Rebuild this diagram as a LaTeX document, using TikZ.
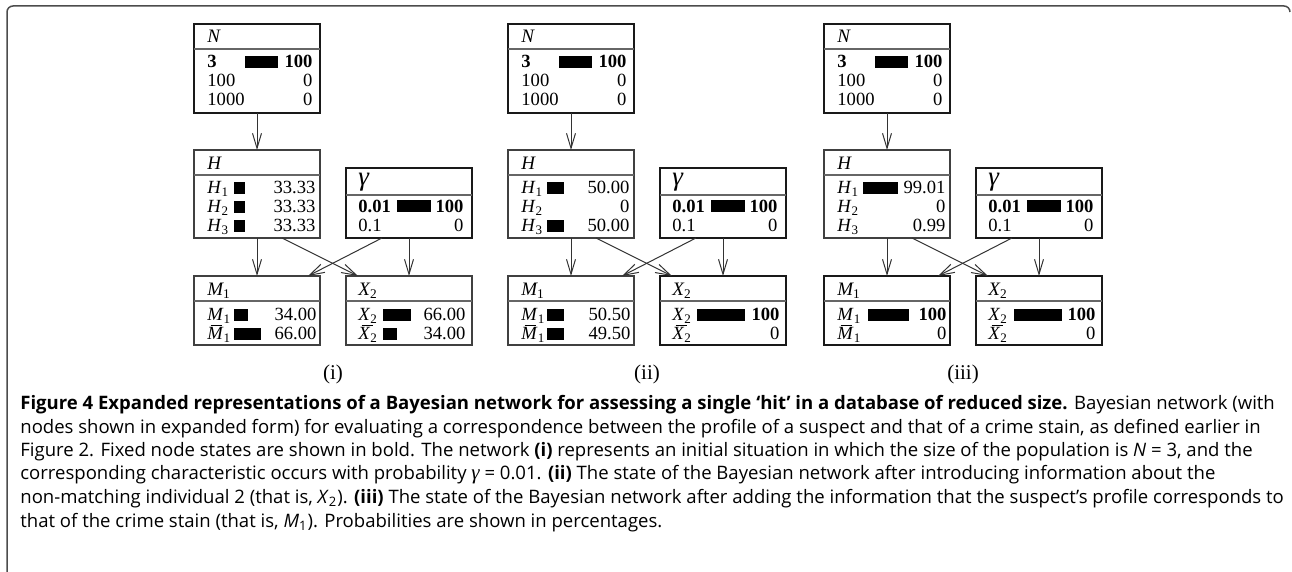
\documentclass[tikz,border=0pt]{standalone}
\usepackage{fontspec}
\setmainfont{Liberation Serif}
\newfontfamily\capfont{Open Sans}
\usetikzlibrary{arrows.meta}
\tikzset{
 bnthin/.style={draw=black!75, line width=0.55pt, inner sep=0pt, outer sep=0pt, minimum width=63pt},
 bnthick/.style={draw=black!90, line width=1pt, inner sep=0pt, outer sep=0pt, minimum width=63pt},
 sepline/.style={draw=black!60, line width=0.6pt},
 hdr/.style={anchor=base west, inner sep=0pt, font=\fontsize{9.5}{9.5}\selectfont\itshape},
 ghdr/.style={anchor=base west, inner sep=0pt, font=\fontsize{13.5}{13.5}\selectfont\itshape},
 rowtxt/.style={anchor=base west, inner sep=0pt, font=\fontsize{9.3}{9.3}\selectfont},
 arr/.style={draw=black!80, line width=0.5pt, -{Straight Barb[length=7.5pt,width=4.5pt]}},
 pnl/.style={anchor=base, inner sep=0pt, font=\fontsize{10.5}{10.5}\selectfont},
 capl/.style={anchor=base west, inner sep=0pt, font=\capfont\fontsize{9.27}{9.27}\selectfont},
 capframe/.style={draw=black!70, line width=0.75pt, rounded corners=3pt},
}
% box: name, style, centre x, top, separator, bottom (px)
\newcommand\bnbox[6]{%
  \node[#2, minimum height={(#6-#4)*0.5pt}] (#1) at (#3,{(#4+#6)/2}) {};
  \draw[sepline] (#3-63,#5) -- (#3+63,#5);}
% row: name, position, row width, label width, bar length, label, value
\newcommand\bnrow[7]{%
  \node[rowtxt] (#1) at #2 {\makebox[#3][l]{\makebox[#4][l]{#6}\rule{#5}{6pt}\hfill #7}};}
\newcommand\lbl[2]{\textit{#1}\textsubscript{\upshape #2}}
\newcommand\lblbar[2]{\makebox[0pt][l]{\hspace{1.6pt}\raisebox{6.9pt}{\rule{5.6pt}{0.45pt}}}\textit{#1}\textsubscript{\upshape #2}}
\begin{document}
\begin{tikzpicture}[x=0.5pt,y=-0.5pt]
\useasboundingbox (0,0) rectangle (1292,572);
\draw[capframe] (7,580) -- (7,6) -- (1290,6) -- (1290,12);

% ---------------- panel (i)
\bnbox{Na}{bnthick}{257}{24}{49}{113}
\node[hdr] (Nah) at (207,43) {N};
\bnrow{Na1}{(207,68)}{52.5pt}{19pt}{16.5pt}{\textbf{3}}{\textbf{100}}
\bnrow{Na2}{(207,87)}{52.5pt}{19pt}{0pt}{100}{0}
\bnrow{Na3}{(207,106)}{52.5pt}{19pt}{0pt}{1000}{0}

\bnbox{Ha}{bnthin}{257}{150}{175}{238}
\node[hdr] (Hah) at (207,170) {H};
\bnrow{Ha1}{(207,194)}{54pt}{13.5pt}{5.5pt}{\lbl{H}{1}}{33.33}
\bnrow{Ha2}{(207,213)}{54pt}{13.5pt}{5.5pt}{\lbl{H}{2}}{33.33}
\bnrow{Ha3}{(207,232)}{54pt}{13.5pt}{5.5pt}{\lbl{H}{3}}{33.33}

\bnbox{Ga}{bnthick}{409}{168}{195}{238}
\node[ghdr] (Gah) at (358,186) {γ};
\bnrow{Ga1}{(358,212.5)}{52.5pt}{19.5pt}{17pt}{\textbf{0.01}}{\textbf{100}}
\bnrow{Ga2}{(358,231.5)}{52.5pt}{19.5pt}{0pt}{0.1}{0}

\bnbox{Ma}{bnthin}{257}{276}{301}{345}
\node[hdr] (Mah) at (207,296) {\lbl{M}{1}};
\bnrow{Ma1}{(207,321)}{54.5pt}{13.5pt}{7pt}{\lbl{M}{1}}{34.00}
\bnrow{Ma2}{(207,340)}{54.5pt}{13.5pt}{13.5pt}{\lblbar{M}{1}}{66.00}

\bnbox{Xa}{bnthin}{409}{276}{301}{345}
\node[hdr] (Xah) at (358,296) {\lbl{X}{2}};
\bnrow{Xa1}{(358,321)}{53.5pt}{12.5pt}{14pt}{\lbl{X}{2}}{66.00}
\bnrow{Xa2}{(358,340)}{53.5pt}{12.5pt}{7pt}{\lblbar{X}{2}}{34.00}

\draw[arr] (Na.south) -- (Ha.north);
\draw[arr] (Ha.south) -- (Ma.north);
\draw[arr] ([xshift=12.5pt]Ha.south) -- ([xshift=-25.5pt]Xa.north);
\draw[arr] ([xshift=-13.5pt]Ga.south) -- ([xshift=25.5pt]Ma.north);
\draw[arr] (Ga.south) -- (Xa.north);
\node[pnl] (La) at (333,380) {(i)};

% ---------------- panel (ii)
\begin{scope}[xshift=157pt]
\bnbox{Nb}{bnthick}{257}{24}{49}{113}
\node[hdr] (Nbh) at (207,43) {N};
\bnrow{Nb1}{(207,68)}{52.5pt}{19pt}{16.5pt}{\textbf{3}}{\textbf{100}}
\bnrow{Nb2}{(207,87)}{52.5pt}{19pt}{0pt}{100}{0}
\bnrow{Nb3}{(207,106)}{52.5pt}{19pt}{0pt}{1000}{0}

\bnbox{Hb}{bnthin}{257}{150}{175}{238}
\node[hdr] (Hbh) at (207,170) {H};
\bnrow{Hb1}{(207,194)}{54pt}{13pt}{8.5pt}{\lbl{H}{1}}{50.00}
\bnrow{Hb2}{(207,213)}{54pt}{13pt}{0pt}{\lbl{H}{2}}{0}
\bnrow{Hb3}{(207,232)}{54pt}{13pt}{8.5pt}{\lbl{H}{3}}{50.00}

\bnbox{Gb}{bnthick}{409}{168}{195}{238}
\node[ghdr] (Gbh) at (358,186) {γ};
\bnrow{Gb1}{(358,212.5)}{52.5pt}{19.5pt}{17pt}{\textbf{0.01}}{\textbf{100}}
\bnrow{Gb2}{(358,231.5)}{52.5pt}{19.5pt}{0pt}{0.1}{0}

\bnbox{Mb}{bnthin}{257}{276}{301}{345}
\node[hdr] (Mbh) at (207,296) {\lbl{M}{1}};
\bnrow{Mb1}{(207,321)}{54.5pt}{13pt}{8.5pt}{\lbl{M}{1}}{50.50}
\bnrow{Mb2}{(207,340)}{54.5pt}{13pt}{8.3pt}{\lblbar{M}{1}}{49.50}

\bnbox{Xb}{bnthick}{409}{276}{301}{345}
\node[hdr] (Xbh) at (358,296) {\lbl{X}{2}};
\bnrow{Xb1}{(358,321)}{53.5pt}{12.5pt}{24pt}{\lbl{X}{2}}{\textbf{100}}
\bnrow{Xb2}{(358,340)}{53.5pt}{12.5pt}{0pt}{\lblbar{X}{2}}{0}

\draw[arr] (Nb.south) -- (Hb.north);
\draw[arr] (Hb.south) -- (Mb.north);
\draw[arr] ([xshift=12.5pt]Hb.south) -- ([xshift=-25.5pt]Xb.north);
\draw[arr] ([xshift=-13.5pt]Gb.south) -- ([xshift=25.5pt]Mb.north);
\draw[arr] (Gb.south) -- (Xb.north);
\node[pnl] (Lb) at (333,380) {(ii)};
\end{scope}

% ---------------- panel (iii)
\begin{scope}[xshift=315pt]
\bnbox{Nc}{bnthick}{257}{24}{49}{113}
\node[hdr] (Nch) at (207,43) {N};
\bnrow{Nc1}{(207,68)}{52.5pt}{19pt}{16.5pt}{\textbf{3}}{\textbf{100}}
\bnrow{Nc2}{(207,87)}{52.5pt}{19pt}{0pt}{100}{0}
\bnrow{Nc3}{(207,106)}{52.5pt}{19pt}{0pt}{1000}{0}

\bnbox{Hc}{bnthin}{257}{150}{175}{238}
\node[hdr] (Hch) at (207,170) {H};
\bnrow{Hc1}{(207,194)}{54pt}{13pt}{17.5pt}{\lbl{H}{1}}{99.01}
\bnrow{Hc2}{(207,213)}{54pt}{13pt}{0pt}{\lbl{H}{2}}{0}
\bnrow{Hc3}{(207,232)}{54pt}{13pt}{0pt}{\lbl{H}{3}}{0.99}

\bnbox{Gc}{bnthick}{409}{168}{195}{238}
\node[ghdr] (Gch) at (358,186) {γ};
\bnrow{Gc1}{(358,212.5)}{52.5pt}{19.5pt}{17pt}{\textbf{0.01}}{\textbf{100}}
\bnrow{Gc2}{(358,231.5)}{52.5pt}{19.5pt}{0pt}{0.1}{0}

\bnbox{Mc}{bnthick}{257}{276}{301}{345}
\node[hdr] (Mch) at (207,296) {\lbl{M}{1}};
\bnrow{Mc1}{(207,321)}{54.5pt}{15.5pt}{20.5pt}{\lbl{M}{1}}{\textbf{100}}
\bnrow{Mc2}{(207,340)}{54.5pt}{15.5pt}{0pt}{\lblbar{M}{1}}{0}

\bnbox{Xc}{bnthick}{409}{276}{301}{345}
\node[hdr] (Xch) at (358,296) {\lbl{X}{2}};
\bnrow{Xc1}{(358,321)}{53.5pt}{13pt}{24pt}{\lbl{X}{2}}{\textbf{100}}
\bnrow{Xc2}{(358,340)}{53.5pt}{13pt}{0pt}{\lblbar{X}{2}}{0}

\draw[arr] (Nc.south) -- (Hc.north);
\draw[arr] (Hc.south) -- (Mc.north);
\draw[arr] ([xshift=12.5pt]Hc.south) -- ([xshift=-25.5pt]Xc.north);
\draw[arr] ([xshift=-13.5pt]Gc.south) -- ([xshift=25.5pt]Mc.north);
\draw[arr] (Gc.south) -- (Xc.north);
\node[pnl] (Lc) at (333,380) {(iii)};
\end{scope}

% ---------------- caption
\node[capl] (cap1) at (20,410) {\textbf{Figure 4 Expanded representations of a Bayesian network for assessing a single ‘hit’ in a database of reduced size.} Bayesian network (with};
\node[capl] (cap2) at (20,433.5) {nodes shown in expanded form) for evaluating a correspondence between the profile of a suspect and that of a crime stain, as defined earlier in};
\node[capl] (cap3) at (20,457) {Figure 2. Fixed node states are shown in bold. The network \textbf{(i)} represents an initial situation in which the size of the population is \textit{N} = 3, and the};
\node[capl] (cap4) at (20,480) {corresponding characteristic occurs with probability {\rmfamily\itshape\fontsize{10.5}{10.5}\selectfont γ} = 0.01. \textbf{(ii)} The state of the Bayesian network after introducing information about the};
\node[capl] (cap5) at (20,503.5) {non-matching individual 2 (that is, \textit{X}\textsubscript{2}). \textbf{(iii)} The state of the Bayesian network after adding the information that the suspect’s profile corresponds to};
\node[capl] (cap6) at (20,527) {that of the crime stain (that is, \textit{M}\textsubscript{1}). Probabilities are shown in percentages.};
\end{tikzpicture}
\end{document}
